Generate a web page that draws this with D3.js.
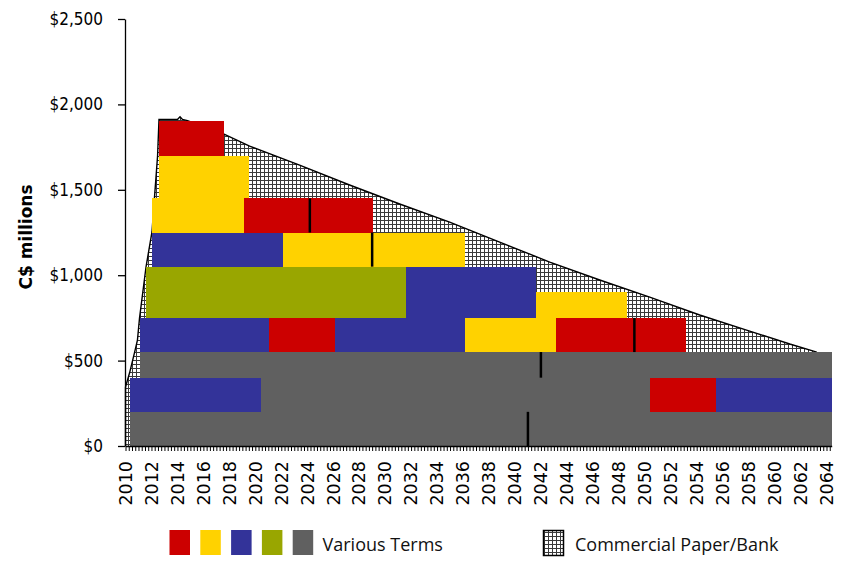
<!DOCTYPE html>
<html>
<head>
<meta charset="utf-8">
<script src="https://cdn.jsdelivr.net/npm/d3@7"></script>
<style>
body { margin: 0; background: #fff; }
svg { display: block; }
.y-axis text { font-family: "DejaVu Sans Condensed", "DejaVu Sans"; font-size: 17px; fill: #000; }
.x-label { font-family: "DejaVu Sans"; font-size: 17.5px; fill: #000; }
.y-title { font-family: "DejaVu Sans"; font-size: 17px; font-weight: bold; fill: #000; }
.legend text { font-family: "Open Sans"; font-size: 18px; fill: #111; }
</style>
</head>
<body>
<svg id="chart" width="847" height="562"></svg>
<script>
// maturity blocks, [start year, end year, low C$m, high C$m]
var redBlocks = [
	[2050.4, 2055.45, 200, 400],
	[2021.05, 2026.15, 550, 750],
	[2043.2, 2053.15, 550, 750],
	[2019.1, 2029.05, 1250, 1450],
	[2012.55, 2017.6, 1700, 1900]
];
var yellowBlocks = [
	[2036.15, 2043.2, 550, 750],
	[2041.65, 2048.6, 750, 900],
	[2022.1, 2036.15, 1050, 1250],
	[2012.05, 2019.1, 1250, 1450],
	[2012.55, 2019.55, 1450, 1700]
];
var blueBlocks = [
	[2010.35, 2020.4, 200, 400],
	[2055.45, 2064.4, 200, 400],
	[2011.1, 2021.05, 550, 750],
	[2026.15, 2036.15, 550, 750],
	[2031.6, 2041.65, 750, 1050],
	[2012.05, 2022.1, 1050, 1250]
];
var greenBlocks = [
	[2011.6, 2031.6, 750, 1050]
];
var grayBlocks = [
	[2010.35, 2064.4, 0, 200],
	[2020.4, 2050.4, 200, 400],
	[2011.1, 2064.4, 400, 550]
];

// black lines between two blocks of the same colour, [year, low, high]
var dividers = [
	[2041.0, 0, 200],
	[2042.0, 400, 550],
	[2049.2, 550, 750],
	[2029.0, 1050, 1250],
	[2024.2, 1250, 1450]
];

// total outstanding incl. commercial paper (top of the hatched area)
var cpYears  = [2010, 2010, 2010.31, 2010.69, 2010.92, 2011.08, 2011.58, 2012.04, 2012.23, 2012.47, 2012.58,
	2014.0, 2014.2, 2014.39, 2014.78, 2017.55, 2019.56, 2023.41, 2027.26, 2031.12, 2034.97, 2038.82,
	2042.68, 2046.53, 2050.38, 2054.23, 2058.08, 2061.17, 2063.25];
var cpTotals = [0, 345, 427, 545, 620, 749, 1048, 1253, 1452, 1698, 1912,
	1912, 1928, 1912, 1905, 1827, 1756, 1645, 1528, 1417, 1311, 1194,
	1077, 972, 872, 767, 673, 597, 550];

var yTicks = [0, 500, 1000, 1500, 2000, 2500];
var xLabelYears = d3.range(2010, 2065, 2);
var legendColors = ["#cc0000", "#ffd200", "#333399", "#99a600", "#606060"];
var legendLabel = "Various Terms";
var cpLabel = "Commercial Paper/Bank";

var svg = d3.select("#chart");

var x = d3.scaleLinear().domain([2010, 2064]).range([125.5, 826.5]);
var y = d3.scaleLinear().domain([0, 2500]).range([446, 19]);

// grid hatch for commercial paper
var defs = svg.append("defs");
var pat = defs.append("pattern")
	.attr("id", "hatch")
	.attr("patternUnits", "userSpaceOnUse")
	.attr("width", 4).attr("height", 4);
pat.append("rect").attr("width", 4).attr("height", 4).attr("fill", "#fff");
pat.append("rect").attr("width", 4).attr("height", 1).attr("fill", "#3a3a3a");
pat.append("rect").attr("width", 1).attr("height", 4).attr("fill", "#3a3a3a");

var cp = cpYears.map((d, i) => ({year: d, total: cpTotals[i]}));

svg.append("path")
	.datum(cp)
	.attr("fill", "url(#hatch)")
	.attr("d", d3.area().x(d => x(d.year)).y0(y(0)).y1(d => y(d.total)));

svg.append("path")
	.datum(cp)
	.attr("fill", "none")
	.attr("stroke", "#000")
	.attr("stroke-width", 1.4)
	.attr("d", d3.line().x(d => x(d.year)).y(d => y(d.total)));

// the blocks themselves
var groups = [
	[grayBlocks, legendColors[4]],
	[redBlocks, legendColors[0]],
	[yellowBlocks, legendColors[1]],
	[blueBlocks, legendColors[2]],
	[greenBlocks, legendColors[3]]
];
groups.forEach(g => {
	svg.append("g").selectAll("rect")
		.data(g[0])
		.enter().append("rect")
			.attr("x", d => x(d[0]))
			.attr("y", d => y(d[3]))
			.attr("width", d => x(d[1]) - x(d[0]))
			.attr("height", d => y(d[2]) - y(d[3]))
			.attr("fill", g[1])
			.attr("shape-rendering", "crispEdges");
});

svg.append("g").selectAll("line")
	.data(dividers)
	.enter().append("line")
		.attr("x1", d => x(d[0])).attr("x2", d => x(d[0]))
		.attr("y1", d => y(d[1])).attr("y2", d => y(d[2]))
		.attr("stroke", "#000")
		.attr("stroke-width", 2.5);

// axes
var yAxis = svg.append("g")
	.attr("class", "y-axis")
	.attr("transform", "translate(125,0)")
	.call(d3.axisLeft(y)
		.tickValues(yTicks)
		.tickSize(7)
		.tickSizeOuter(0)
		.tickPadding(15)
		.tickFormat(d => "$" + d3.format(",")(d)));
yAxis.selectAll("line, path").attr("stroke", "#000").attr("stroke-width", 1.3);

var xAxis = svg.append("g")
	.attr("transform", "translate(0,446)")
	.call(d3.axisBottom(d3.scaleLinear().domain([2010, 2064.4]).range([x(2010), x(2064.4)]))
		.tickValues(d3.range(2010, 2064.5, 0.25))
		.tickSize(5)
		.tickSizeOuter(0)
		.tickFormat(""));
xAxis.selectAll("line").attr("stroke", "#000").attr("stroke-width", 1);
xAxis.select("path").attr("stroke", "#000").attr("stroke-width", 1.3);

svg.append("g").selectAll("text")
	.data(xLabelYears)
	.enter().append("text")
		.attr("class", "x-label")
		.attr("transform", d => `translate(${x(d)},461) rotate(-90)`)
		.attr("text-anchor", "end")
		.attr("dy", "0.36em")
		.text(d => d);

svg.append("text")
	.attr("class", "y-title")
	.attr("transform", "translate(26,237) rotate(-90)")
	.attr("text-anchor", "middle")
	.attr("dy", "0.36em")
	.text("C$ millions");

// legend
var legend = svg.append("g").attr("class", "legend");
legend.selectAll("rect.key")
	.data(legendColors)
	.enter().append("rect")
		.attr("class", "key")
		.attr("x", (d, i) => 169.5 + i * 30.8)
		.attr("y", 530)
		.attr("width", 20.5)
		.attr("height", 25)
		.attr("fill", d => d);
legend.append("text")
	.attr("x", 322.5)
	.attr("y", 551)
	.text(legendLabel);
legend.append("rect")
	.attr("x", 543.5).attr("y", 530.5)
	.attr("width", 20).attr("height", 25)
	.attr("fill", "url(#hatch)")
	.attr("stroke", "#000")
	.attr("stroke-width", 1.5);
legend.append("text")
	.attr("x", 575)
	.attr("y", 551)
	.text(cpLabel);
</script>
</body>
</html>
